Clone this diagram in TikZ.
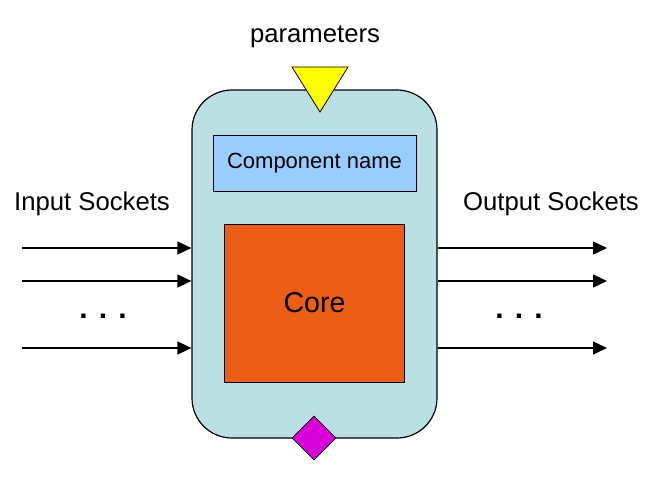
\documentclass[tikz,border=0pt]{standalone}
\usepackage{fontspec}
\setmainfont{Liberation Sans}
\usetikzlibrary{shapes.geometric, arrows.meta, positioning, calc}
\definecolor{boxblue}{RGB}{187,224,227}
\definecolor{namblue}{RGB}{153,204,255}
\definecolor{coreorange}{RGB}{236,94,22}
\definecolor{parmyellow}{RGB}{255,255,0}
\definecolor{portmagenta}{RGB}{214,0,214}
\tikzset{
  container/.style={rectangle, draw=black, fill=boxblue, line width=1.2pt,
    rounded corners=40pt, minimum width=245pt, minimum height=348pt},
  namebox/.style={rectangle, draw=black, fill=namblue, line width=1pt,
    minimum width=203pt, minimum height=56pt, font=\fontsize{22}{26}\selectfont},
  corebox/.style={rectangle, draw=black, fill=coreorange, line width=1pt,
    minimum width=180pt, minimum height=158pt, font=\fontsize{28.6}{34}\selectfont},
  label/.style={font=\fontsize{25.7}{30}\selectfont},
  dots/.style={font=\fontsize{30}{34}\selectfont\bfseries},
  socket/.style={-{Triangle[length=14pt,width=13pt]}, line width=1.3pt}
}
\begin{document}
\begin{tikzpicture}[x=1pt, y=-1pt]
  \useasboundingbox (0,0) rectangle (661,483);

  % Component body
  \node[container] (box) at (314.5,264) {};
  \node[namebox] (name) at (314.5,163) {Component name};
  \node[corebox] (core) at (314.5,303) {Core};

  % Parameter port
  \coordinate (parm) at (320,112);
  \draw[line width=0.8pt, fill=parmyellow] (292,67) -- (348,67) -- (parm) -- cycle;
  \node[label] (parmlabel) at (315,37) {parameters};

  % Bottom port
  \node[diamond, draw=black, fill=portmagenta, line width=0.8pt,
    minimum width=44pt, minimum height=44pt, inner sep=0pt] (port) at (314,438) {};

  % Input sockets
  \node[label] (inlabel) at (92,204) {Input Sockets};
  \foreach \y [count=\i] in {248,281,348} {
    \coordinate (in\i) at (22,\y);
    \draw[socket] (in\i) -- (in\i -| box.west);
  }
  \node[dots] (indots) at (103,316) {. . .};

  % Output sockets
  \node[label] (outlabel) at (551,204) {Output Sockets};
  \foreach \y [count=\i] in {248,281,348} {
    \coordinate (out\i) at (607,\y);
    \draw[socket] (out\i -| box.east) -- (out\i);
  }
  \node[dots] (outdots) at (519,316) {. . .};
\end{tikzpicture}
\end{document}
